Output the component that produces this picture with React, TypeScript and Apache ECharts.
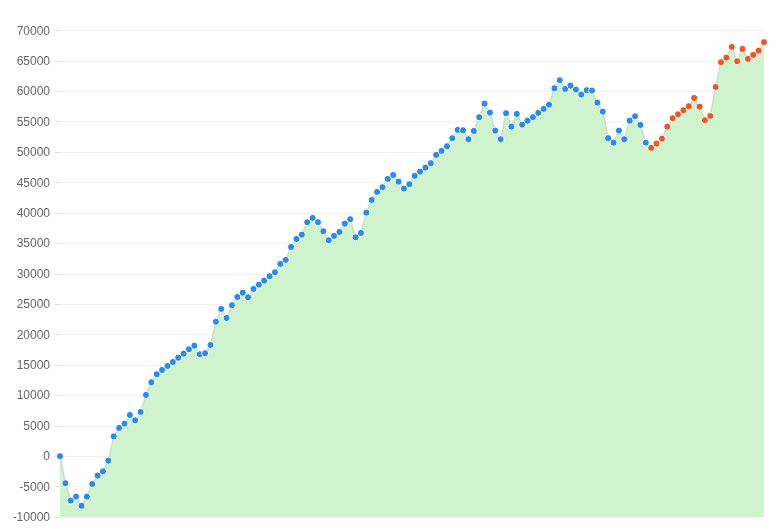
import React, { useEffect, useRef } from "react";
import * as echarts from "echarts";

const values: number[] = [
  0, -4450, -7300, -6650, -8150, -6650, -4570, -3200, -2500, -740,
  3270, 4640, 5350, 6780, 5900, 7270, 10070, 12150, 13470, 14180,
  14840, 15490, 16200, 16860, 17580, 18170, 16760, 16930, 18290, 22120,
  24210, 22730, 24820, 26180, 26890, 26130, 27500, 28210, 28870, 29590,
  30250, 31610, 32270, 34410, 35720, 36430, 38470, 39180, 38470, 36990,
  35510, 36220, 36880, 38240, 38960, 36000, 36710, 40050, 42140, 43450,
  44230, 45590, 46250, 45150, 44000, 44720, 46090, 46790, 47450, 48170,
  49540, 50200, 50970, 52290, 53650, 53600, 52120, 53490, 55740, 57980,
  56500, 53540, 52120, 56400, 54190, 56280, 54520, 55180, 55740, 56450,
  57110, 57810, 60510, 61820, 60390, 60940, 60280, 59460, 60180, 60120,
  58140, 56660, 52290, 51560, 53540, 52120, 55180, 55900, 54470, 51560,
  50690, 51400, 52220, 54190, 55580, 56230, 56890, 57550, 58910, 57480,
  55250, 55950, 60720, 64790, 65540, 67300, 64950, 66970, 65330, 65990,
  66690, 68080,
];

const categories: string[] = values.map((_, i) => String(i + 1));
const redStartIndex = 110;
const yMin = -10000;
const yMax = 70000;
const yInterval = 5000;

export default function App() {
  const ref = useRef<HTMLDivElement>(null);
  useEffect(() => {
    if (!ref.current) return;
    const chart = echarts.init(ref.current, undefined, { renderer: "svg" });
    chart.setOption({
      animation: false,
      grid: { left: 60, right: 13, top: 30.5, bottom: 14, containLabel: false },
      xAxis: {
        type: "category",
        data: categories,
        boundaryGap: false,
        axisLine: { show: false },
        axisTick: { show: false },
        axisLabel: { show: false },
        splitLine: { show: false },
      },
      yAxis: {
        type: "value",
        min: yMin,
        max: yMax,
        interval: yInterval,
        axisLine: { show: false },
        axisTick: { show: true, length: 5, lineStyle: { color: "#e0e0e0" } },
        axisLabel: {
          color: "#666",
          fontSize: 12,
          margin: 10,
          fontFamily: "Liberation Sans, Arial, sans-serif",
          formatter: (v: number) => String(v),
        },
        splitLine: { lineStyle: { color: "#f0f0f0", width: 1 } },
      },
      series: [
        {
          type: "line",
          data: values.map((v, i) =>
            i >= redStartIndex
              ? { value: v, itemStyle: { color: "#e8582b" } }
              : { value: v }
          ),
          symbol: "circle",
          symbolSize: 7,
          showAllSymbol: true,
          itemStyle: { color: "#2b8be6", borderColor: "#ffffff", borderWidth: 1 },
          lineStyle: { color: "#c9dfc4", width: 1.5 },
          areaStyle: { color: "#cff3cc", opacity: 1, origin: "start" },
        },
      ],
    });
    return () => chart.dispose();
  }, []);
  return (
    <div
      ref={ref}
      style={{ position: "fixed", left: 0, top: 0, width: 777, height: 531 }}
    />
  );
}
